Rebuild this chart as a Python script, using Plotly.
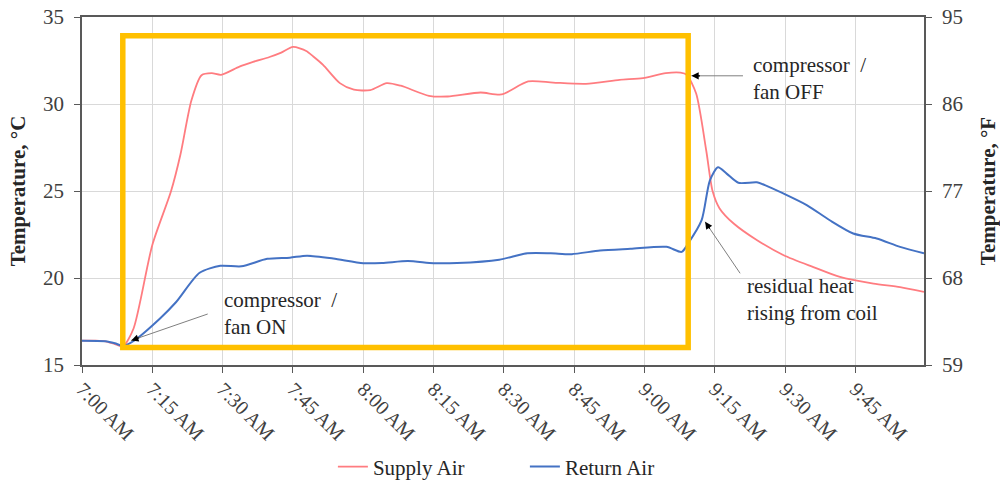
import math
import plotly.graph_objects as go

DAY = "2020-01-01 "

supply_times = ["07:00:00", "07:03:00", "07:05:00", "07:07:00", "07:08:45", "07:11:00", "07:15:00",
                "07:19:00", "07:21:00", "07:23:20", "07:25:30", "07:27:40", "07:29:40", "07:33:35",
                "07:36:30", "07:40:00", "07:42:30", "07:45:00", "07:47:50", "07:49:20", "07:51:25",
                "07:55:00", "07:58:00", "08:01:30", "08:05:00", "08:08:00", "08:14:00", "08:18:00",
                "08:25:00", "08:29:30", "08:35:10", "08:40:30", "08:47:30", "08:54:40", "08:59:40",
                "09:04:30", "09:07:40", "09:09:00", "09:11:00", "09:13:10", "09:14:30", "09:16:00",
                "09:19:00", "09:24:00", "09:29:40", "09:36:00", "09:41:40", "09:48:50", "09:54:30",
                "09:59:36"]
supply_air = [16.40, 16.40, 16.36, 16.20, 16.07, 17.10, 21.90,
              25.00, 27.10, 30.20, 31.65, 31.77, 31.68, 32.15,
              32.42, 32.70, 32.95, 33.28, 33.05, 32.73, 32.25,
              31.20, 30.82, 30.80, 31.20, 31.05, 30.47, 30.43,
              30.66, 30.55, 31.30, 31.23, 31.16, 31.39, 31.49,
              31.77, 31.80, 31.68, 30.60, 27.30, 25.00, 24.00,
              23.13, 22.17, 21.31, 20.63, 20.06, 19.68, 19.48,
              19.20]

return_times = ["07:00:00", "07:05:00", "07:07:00", "07:08:45", "07:10:50", "07:16:35", "07:20:05",
                "07:25:05", "07:29:30", "07:34:00", "07:39:30", "07:44:20", "07:48:00", "07:53:35",
                "08:00:00", "08:04:00", "08:09:30", "08:15:00", "08:20:00", "08:29:00", "08:35:00",
                "08:40:00", "08:44:25", "08:50:30", "08:57:00", "09:04:40", "09:07:55", "09:09:20",
                "09:12:10", "09:13:55", "09:15:40", "09:17:30", "09:20:00", "09:23:55", "09:25:40",
                "09:29:35", "09:34:35", "09:39:30", "09:44:30", "09:49:30", "09:54:30", "09:59:36"]
return_air = [16.40, 16.37, 16.25, 16.10, 16.35, 17.66, 18.62,
              20.30, 20.70, 20.67, 21.10, 21.17, 21.28, 21.12,
              20.85, 20.86, 20.97, 20.85, 20.86, 21.05, 21.42,
              21.42, 21.37, 21.58, 21.68, 21.79, 21.50, 22.00,
              23.32, 25.60, 26.36, 26.00, 25.47, 25.50, 25.34,
              24.86, 24.19, 23.32, 22.56, 22.27, 21.79, 21.42]

tick_times = ["07:00", "07:15", "07:30", "07:45", "08:00", "08:15", "08:30", "08:45",
              "09:00", "09:15", "09:30", "09:45"]
tick_labels = ["7:00 AM", "7:15 AM", "7:30 AM", "7:45 AM", "8:00 AM", "8:15 AM", "8:30 AM",
               "8:45 AM", "9:00 AM", "9:15 AM", "9:30 AM", "9:45 AM"]
c_ticks = [15, 20, 25, 30, 35]
f_ticks = [59, 68, 77, 86, 95]

x_range = ["07:00:00", "09:59:36"]
highlight_x = ["07:08:42", "09:09:18"]
highlight_y = [16.0, 33.92]

FONT = "Liberation Serif, Times New Roman, serif"
AX = "#595959"
GRID = "#d9d9d9"
TXT = "#262626"
FS = 21

ts = lambda lst: [DAY + t for t in lst]

fig = go.Figure()
fig.add_trace(go.Scatter(x=ts(supply_times), y=supply_air, name="Supply Air", mode="lines",
                         line=dict(color="#FF7C80", width=1.8, shape="spline", smoothing=0.7)))
fig.add_trace(go.Scatter(x=ts(return_times), y=return_air, name="Return Air", mode="lines",
                         line=dict(color="#4472C4", width=2, shape="spline", smoothing=0.7)))
# invisible Fahrenheit twin to carry the right axis
fig.add_trace(go.Scatter(x=ts(supply_times), y=[c * 9 / 5 + 32 for c in supply_air], yaxis="y2",
                         mode="lines", line=dict(width=0, color="rgba(0,0,0,0)"),
                         showlegend=False, hoverinfo="skip"))

fig.add_shape(type="rect", xref="x", yref="y",
              x0=DAY + highlight_x[0], x1=DAY + highlight_x[1],
              y0=highlight_y[0], y1=highlight_y[1],
              line=dict(color="#FFC000", width=5.5), fillcolor="rgba(0,0,0,0)")


def arrow(x, y, ax, ay):
    fig.add_annotation(x=x, y=y, ax=ax, ay=ay, xref="x", yref="y", axref="pixel", ayref="pixel",
                       text="", showarrow=True, arrowhead=0, arrowwidth=1, arrowcolor="#7f7f7f",
                       standoff=0)
    L = math.hypot(ax, ay)
    fig.add_annotation(x=x, y=y, ax=ax * 10 / L, ay=ay * 10 / L, xref="x", yref="y",
                       axref="pixel", ayref="pixel", text="", showarrow=True, arrowhead=2,
                       arrowsize=1.2, arrowwidth=1.2, arrowcolor="#000000", standoff=0)


arrow(DAY + "07:10:30", 16.41, 78, -27)
arrow(DAY + "09:10:00", 31.62, 53, 0)
arrow(DAY + "09:12:55", 23.23, 36, 53)


def label(x, y, text):
    fig.add_annotation(x=x, y=y, xref="x", yref="y", text=text, showarrow=False,
                       xanchor="left", yanchor="middle", align="left",
                       font=dict(family=FONT, size=FS, color=TXT))


label(DAY + "07:29:51", 17.97, "compressor  /<br>fan ON")
label(DAY + "09:22:48", 31.49, "compressor  /<br>fan OFF")
label(DAY + "09:21:30", 18.77, "residual heat<br>rising from coil")

fig.update_layout(
    width=1000, height=485,
    margin=dict(l=82, r=76, t=17, b=120, autoexpand=False),
    paper_bgcolor="white", plot_bgcolor="white",
    font=dict(family=FONT, size=FS, color=TXT),
    showlegend=True,
    legend=dict(orientation="h", x=0.526, xanchor="center", y=-0.293, yanchor="middle",
                font=dict(family=FONT, size=FS, color=TXT), itemwidth=30,
                entrywidth=147, bgcolor="rgba(0,0,0,0)"),
    xaxis=dict(type="date", range=[DAY + x_range[0], DAY + x_range[1]], automargin=False,
               tickvals=ts(tick_times), ticktext=tick_labels, tickangle=45,
               showgrid=True, gridcolor=GRID, gridwidth=1,
               showline=True, linecolor=AX, linewidth=1.5, mirror=True,
               ticks="outside", ticklen=6, tickcolor=AX, zeroline=False, ticklabelstandoff=-3,
               tickfont=dict(family=FONT, size=20, color="#404040")),
    yaxis=dict(range=[15, 35], tickvals=c_ticks, showgrid=True, gridcolor=GRID, gridwidth=1,
               automargin=False,
               showline=True, linecolor=AX, linewidth=1.5, ticks="outside", ticklen=6,
               tickcolor=AX, zeroline=False, ticklabelstandoff=6,
               tickfont=dict(family=FONT, size=FS, color="#404040"),
               title=dict(text="<b>Temperature, °C</b>", standoff=12,
                          font=dict(family=FONT, size=FS, color=TXT))),
    yaxis2=dict(range=[59, 95], tickvals=f_ticks, overlaying="y", side="right",
                automargin=False,
                showgrid=False, showline=True, linecolor=AX, linewidth=1.5, ticks="outside",
                ticklen=6, tickcolor=AX, zeroline=False, ticklabelstandoff=6,
                tickfont=dict(family=FONT, size=FS, color="#404040"),
                title=dict(text="<b>Temperature, °F</b>", standoff=20,
                           font=dict(family=FONT, size=FS, color=TXT))),
)

fig.write_html("out.html", config={"displayModeBar": False},
               post_script="document.body.style.margin='0';")
